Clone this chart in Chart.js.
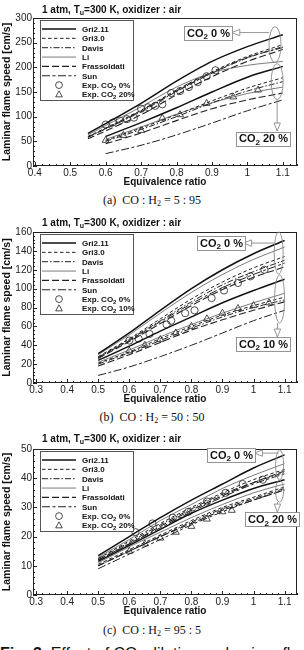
<!DOCTYPE html>
<html>
<head>
<meta charset="utf-8">
<script src="https://cdn.jsdelivr.net/npm/chart.js@4.4.0/dist/chart.umd.min.js"></script>
<style>
  body { margin: 0; background: #fff; }
  #page { position: relative; width: 304px; height: 650px; overflow: hidden; font-family: "Liberation Sans", Arial, sans-serif; color: #111; }
  canvas { position: absolute; left: 0; display: block; }
  .ttl { position: absolute; left: 42px; z-index: 2; font-weight: bold; font-size: 10px; line-height: 12px; white-space: nowrap; }
  .ttl sub { font-size: 7px; vertical-align: -2px; line-height: 0; }
  .cap { position: absolute; left: 0; width: 304px; text-align: center; font-family: "Liberation Serif", "Times New Roman", serif; font-size: 12px; line-height: 14px; white-space: nowrap; }
  .cap sub { font-size: 8px; vertical-align: -2px; line-height: 0; }
  .fig { position: absolute; left: 0; top: 646px; font-size: 16px; line-height: 16px; white-space: nowrap; }
  .fig sub { font-size: 11px; vertical-align: -3px; line-height: 0; }
</style>
</head>
<body>
<div id="page">
  <div class="ttl" style="top:4px">1 atm, T<sub>u</sub>=300 K, oxidizer : air</div>
  <canvas id="ca" width="304" height="180" style="top:10px"></canvas>
  <div class="cap" style="top:193px">(a)&nbsp; CO : H<sub>2</sub> = 5 : 95</div>

  <div class="ttl" style="top:217px">1 atm, T<sub>u</sub>=300 K, oxidizer : air</div>
  <canvas id="cb" width="304" height="183" style="top:224px"></canvas>
  <div class="cap" style="top:410px">(b)&nbsp; CO : H<sub>2</sub> = 50 : 50</div>

  <div class="ttl" style="top:433px">1 atm, T<sub>u</sub>=300 K, oxidizer : air</div>
  <canvas id="cc" width="304" height="178" style="top:441px"></canvas>
  <div class="cap" style="top:623px">(c)&nbsp; CO : H<sub>2</sub> = 95 : 5</div>

  <div class="fig"><b>Fig. 3</b>&nbsp; Effect of CO<sub>2</sub> dilution on laminar flame speed and</div>
</div>

<script>
const FONT = '"Liberation Sans", Arial, Helvetica, sans-serif';
Chart.defaults.font.family = FONT;
Chart.defaults.color = '#222';

// mechanisms, same order everywhere
const models = ['Gri2.11', 'Gri3.0', 'Davis', 'Li', 'Frassoldati', 'Sun'];

// ---- (a) CO:H2 = 5:95 ----
const phiA0 = [0.55, 0.6, 0.7, 0.8, 0.9, 1.0, 1.1];
const phiA20 = [0.6, 0.7, 0.8, 0.9, 1.0, 1.1];
const aGri211_0 = [66, 86, 127, 172, 212, 242, 266];
const aGri30_0 = [60, 77, 113, 154, 191, 222, 246];
const aDavis_0 = [58, 75, 110, 151, 188, 219, 242];
const aLi_0 = [63, 82, 120, 160, 189, 204, 212];
const aFrass_0 = [55, 71, 104, 144, 181, 212, 236];
const aSun_0 = [59, 76, 112, 152, 189, 220, 240];
const aGri211_20 = [60, 88, 118, 150, 180, 202];
const aGri30_20 = [52, 77, 104, 132, 158, 179];
const aDavis_20 = [50, 74, 100, 128, 152, 171];
const aLi_20 = [54, 79, 105, 128, 147, 160];
const aFrass_20 = [45, 67, 92, 116, 134, 148];
const aSun_20 = [25, 42, 63, 87, 112, 134];
const aExp0Phi = [0.6, 0.62, 0.64, 0.66, 0.68, 0.7, 0.72, 0.74, 0.76, 0.785, 0.81, 0.835, 0.86, 0.885, 0.91];
const aExp0 = [84, 88, 92, 95, 98, 116, 119, 122, 125, 148, 152, 160, 170, 182, 194];
const aExp20Phi = [0.6, 0.65, 0.7, 0.76, 0.81, 0.885, 0.96, 1.03];
const aExp20 = [52, 62, 72, 97, 104, 127, 140, 154];
const aXTicks = [0.4, 0.5, 0.6, 0.7, 0.8, 0.9, 1, 1.1];
const aYTicks = [0, 50, 100, 150, 200, 250, 300];

// ---- (b) CO:H2 = 50:50 ----
const phiB = [0.5, 0.6, 0.7, 0.8, 0.9, 1.0, 1.1];
const bGri211_0 = [31, 53, 77, 100, 120, 137, 151];
const bGri30_0 = [28, 47, 68, 89, 107, 122, 134];
const bDavis_0 = [27, 46, 66, 86, 104, 118, 130];
const bLi_0 = [30, 51, 74, 96, 115, 131, 144];
const bFrass_0 = [26, 44, 63, 82, 99, 112, 123];
const bSun_0 = [27, 45, 65, 84, 101, 115, 127];
const bGri211_10 = [24, 39, 55, 70, 85, 98, 110];
const bGri30_10 = [21, 33, 47, 60, 72, 82, 91];
const bDavis_10 = [20, 32, 45, 58, 70, 80, 88];
const bLi_10 = [22, 35, 49, 62, 74, 85, 95];
const bFrass_10 = [18, 30, 43, 56, 67, 77, 86];
const bSun_10 = [8, 17, 28, 40, 53, 66, 77];
const bExp0Phi = [0.6, 0.63, 0.665, 0.72, 0.735, 0.78, 0.81, 0.865, 0.905, 0.95, 0.99, 1.035];
const bExp0 = [45, 47, 52, 62, 66, 74, 77, 90, 98, 106, 113, 120];
const bExp10Phi = [0.6, 0.65, 0.7, 0.75, 0.8, 0.85, 0.9, 0.95, 1.0, 1.05];
const bExp10 = [34, 40, 46, 53, 60, 68, 74, 79, 82, 85];
const bXTicks = [0.3, 0.4, 0.5, 0.6, 0.7, 0.8, 0.9, 1, 1.1];
const bYTicks = [0, 20, 40, 60, 80, 100, 120, 140, 160];

// ---- (c) CO:H2 = 95:5 ----
const phiC = [0.5, 0.6, 0.7, 0.8, 0.9, 1.0, 1.1];
const cGri211_0 = [13.5, 20, 26.5, 32.5, 38, 43.5, 48];
const cGri30_0 = [12.5, 18.5, 24.5, 30, 35, 39.5, 43];
const cDavis_0 = [12.5, 18, 24, 29.5, 34.5, 38.5, 42];
const cLi_0 = [13, 19, 25.5, 31, 36.5, 41, 45];
const cFrass_0 = [12, 17.5, 23.5, 29, 34, 38.5, 42.5];
const cSun_0 = [12, 17.5, 23, 28.5, 33.5, 38, 41.5];
const cGri211_20 = [11.5, 17, 22.5, 28, 32.5, 36.5, 39.5];
const cGri30_20 = [10.5, 15.5, 20.5, 25.5, 30, 33.5, 37];
const cDavis_20 = [10, 15, 20, 25, 29.5, 33, 36.5];
const cLi_20 = [11, 16.5, 21.5, 26.5, 31, 35, 38];
const cFrass_20 = [10, 15, 20, 24.5, 29, 32.5, 36];
const cSun_20 = [9, 14, 19, 24, 28.5, 32.5, 36];
const cExp0Phi = [0.62, 0.675, 0.74, 0.79, 0.85, 0.91, 0.965, 1.03];
const cExp0 = [21.5, 24.5, 26.5, 28.5, 32, 35, 38, 39.5];
const cExp20Phi = [0.6, 0.65, 0.7, 0.75, 0.8, 0.85, 0.9, 0.93];
const cExp20 = [15, 17.5, 19.5, 21.5, 23.5, 26, 28.5, 29];
const cXTicks = bXTicks;
const cYTicks = [0, 10, 20, 30, 40, 50];

// line look of each mechanism (same order as models)
const modelLook = [
  { dash: [], width: 1.5, color: '#111' },
  { dash: [3.5, 2.5], width: 1, color: '#222' },
  { dash: [6, 2, 1.5, 2], width: 1, color: '#222' },
  { dash: [], width: 0.7, color: '#444' },
  { dash: [7, 3], width: 1.1, color: '#222' },
  { dash: [8, 2.5, 3, 2.5], width: 1, color: '#222' }
];

// draws text, putting "CO2" with a subscript 2; returns width
function richText(ctx, str, x, y, size, weight, draw) {
  const big = `${weight} ${size}px ${FONT}`;
  const small = `${weight} ${Math.round(size * 0.7)}px ${FONT}`;
  const parts = str.split('CO2');
  let cx = x;
  parts.forEach((p, i) => {
    if (i > 0) {
      ctx.font = big;
      if (draw) ctx.fillText('CO', cx, y);
      cx += ctx.measureText('CO').width;
      ctx.font = small;
      if (draw) ctx.fillText('2', cx, y + size * 0.25);
      cx += ctx.measureText('2').width;
    }
    ctx.font = big;
    if (draw) ctx.fillText(p, cx, y);
    cx += ctx.measureText(p).width;
  });
  return cx - x;
}

function arrowHead(ctx, x1, y1, x2, y2) {
  const ang = Math.atan2(y2 - y1, x2 - x1);
  const L = 8, W = 3.2;
  const bx = x2 - L * Math.cos(ang), by = y2 - L * Math.sin(ang);
  ctx.beginPath();
  ctx.moveTo(x2, y2);
  ctx.lineTo(bx + W * Math.sin(ang), by - W * Math.cos(ang));
  ctx.lineTo(bx - W * Math.sin(ang), by + W * Math.cos(ang));
  ctx.closePath();
  ctx.fillStyle = '#fff';
  ctx.fill();
  ctx.stroke();
}

// frame, inward ticks, legend box and the CO2 notes
function deco(cfg) {
  return {
    id: 'deco',
    afterDraw(chart) {
      const { ctx, chartArea: a, scales: { x, y } } = chart;
      ctx.save();
      ctx.setLineDash([]);
      ctx.strokeStyle = '#222';
      ctx.lineWidth = 1;
      ctx.beginPath();
      for (let k = Math.ceil(cfg.xmin / cfg.xMinor - 1e-6); k * cfg.xMinor <= cfg.xmax + 1e-9; k++) {
        const px = Math.round(x.getPixelForValue(k * cfg.xMinor)) + 0.5;
        const len = k % 5 === 0 ? 4 : 2;
        ctx.moveTo(px, a.bottom);
        ctx.lineTo(px, a.bottom - len);
      }
      for (let k = 0; k * cfg.yMinor <= cfg.ymax + 1e-9; k++) {
        const py = Math.round(y.getPixelForValue(k * cfg.yMinor)) + 0.5;
        const len = k % 5 === 0 ? 4 : 2;
        ctx.moveTo(a.left, py);
        ctx.lineTo(a.left + len, py);
      }
      ctx.stroke();
      ctx.strokeRect(Math.round(a.left) + 0.5, Math.round(a.top) + 0.5,
        Math.round(a.right - a.left) - 1, Math.round(a.bottom - a.top) - 1);

      // legend
      const lx = a.left + 7, ly = a.top + 2;
      ctx.fillStyle = '#fff';
      ctx.strokeStyle = '#555';
      ctx.fillRect(lx + 0.5, ly + 0.5, 93, 80);
      ctx.strokeRect(lx + 0.5, ly + 0.5, 93, 80);
      const labels = models.concat(cfg.expLabels);
      labels.forEach((lab, i) => {
        const ry = ly + 9 + i * 9.35;
        ctx.strokeStyle = '#222';
        if (i < models.length) {
          const st = modelLook[i];
          ctx.setLineDash(st.dash);
          ctx.lineWidth = st.width;
          ctx.strokeStyle = st.color;
          ctx.beginPath();
          ctx.moveTo(lx + 2, ry);
          ctx.lineTo(lx + 36, ry);
          ctx.stroke();
        } else {
          ctx.setLineDash([]);
          ctx.lineWidth = 0.8;
          ctx.beginPath();
          if (i === models.length) {
            ctx.arc(lx + 19, ry, 3.4, 0, Math.PI * 2);
          } else {
            ctx.moveTo(lx + 19, ry - 3.6);
            ctx.lineTo(lx + 22.3, ry + 2.4);
            ctx.lineTo(lx + 15.7, ry + 2.4);
            ctx.closePath();
          }
          ctx.stroke();
        }
        ctx.fillStyle = '#111';
        richText(ctx, lab, lx + 42, ry + 3, 8, 'bold', true);
      });

      // notes: ellipses, arrows, boxes
      ctx.setLineDash([]);
      ctx.lineWidth = 0.9;
      ctx.strokeStyle = '#8a8a8a';
      cfg.ellipses.forEach(([ex, ey, rx, ryy]) => {
        ctx.beginPath();
        ctx.ellipse(x.getPixelForValue(ex), y.getPixelForValue(ey), rx, ryy, 0, 0, Math.PI * 2);
        ctx.stroke();
      });
      cfg.arrows.forEach(([x1, y1, x2, y2]) => {
        const p1 = [x.getPixelForValue(x1), y.getPixelForValue(y1)];
        const p2 = [x.getPixelForValue(x2), y.getPixelForValue(y2)];
        ctx.beginPath();
        ctx.moveTo(p1[0], p1[1]);
        ctx.lineTo(p2[0], p2[1]);
        ctx.stroke();
        arrowHead(ctx, p1[0], p1[1], p2[0], p2[1]);
      });
      cfg.boxes.forEach(([bx, by, txt]) => {
        const w = richText(ctx, txt, 0, 0, 11, 'bold', false) + 5;
        const h = 14;
        const cx = x.getPixelForValue(bx), cy = y.getPixelForValue(by);
        ctx.fillStyle = '#fff';
        ctx.strokeStyle = '#8a8a8a';
        ctx.fillRect(Math.round(cx - w / 2) + 0.5, Math.round(cy - h / 2) + 0.5, Math.round(w), h);
        ctx.strokeRect(Math.round(cx - w / 2) + 0.5, Math.round(cy - h / 2) + 0.5, Math.round(w), h);
        ctx.fillStyle = '#111';
        richText(ctx, txt, Math.round(cx - w / 2) + 3, cy + 3.5, 11, 'bold', true);
      });
      ctx.restore();
    }
  };
}

function makeChart(id, cfg) {
  const datasets = [];
  models.forEach((m, k) => {
    const st = modelLook[k];
    [[cfg.phi0, cfg.base[k]], [cfg.phiD, cfg.dil[k]]].forEach(([xs, ys]) => {
      datasets.push({
        label: m,
        data: xs.map((v, i) => ({ x: v, y: ys[i] })),
        borderColor: st.color,
        borderWidth: st.width,
        borderDash: st.dash,
        pointRadius: 0,
        fill: false,
        cubicInterpolationMode: 'monotone'
      });
    });
  });
  datasets.push({
    label: cfg.expLabels[0],
    data: cfg.exp0Phi.map((v, i) => ({ x: v, y: cfg.exp0[i] })),
    showLine: false, pointStyle: 'circle', pointRadius: 3.6,
    pointBorderColor: '#222', pointBorderWidth: 0.8, pointBackgroundColor: 'rgba(0,0,0,0)'
  });
  datasets.push({
    label: cfg.expLabels[1],
    data: cfg.expDPhi.map((v, i) => ({ x: v, y: cfg.expD[i] })),
    showLine: false, pointStyle: 'triangle', pointRadius: 4,
    pointBorderColor: '#222', pointBorderWidth: 0.8, pointBackgroundColor: 'rgba(0,0,0,0)'
  });

  return new Chart(document.getElementById(id), {
    type: 'line',
    data: { datasets },
    options: {
      responsive: false,
      animation: false,
      events: [],
      layout: { padding: { top: 8, right: 7, left: 0, bottom: 0 } },
      plugins: { legend: { display: false }, tooltip: { enabled: false } },
      scales: {
        x: {
          type: 'linear', min: cfg.xmin, max: cfg.xmax,
          afterFit: s => { s.height = 24; },
          afterBuildTicks: s => { s.ticks = cfg.xTicks.map(v => ({ value: v })); },
          grid: { display: false, drawTicks: false },
          border: { display: false },
          ticks: { padding: 1, autoSkip: false, maxRotation: 0, font: { size: 10 }, color: '#222',
                   callback: v => String(+v.toFixed(2)) },
          title: { display: true, text: 'Equivalence ratio', color: '#111',
                   font: { size: 10, weight: 'bold' }, padding: { top: 0, bottom: 2 } }
        },
        y: {
          type: 'linear', min: 0, max: cfg.ymax,
          afterFit: s => { s.width = 33; },
          afterBuildTicks: s => { s.ticks = cfg.yTicks.map(v => ({ value: v })); },
          grid: { display: false, drawTicks: false },
          border: { display: false },
          ticks: { padding: 1, font: { size: 10 }, color: '#222' },
          title: { display: true, text: 'Laminar flame speed [cm/s]', color: '#111',
                   font: { size: 10.5, weight: 'bold' }, padding: { top: 1, bottom: 0 } }
        }
      }
    },
    plugins: [deco(cfg)]
  });
}

makeChart('ca', {
  phi0: phiA0, phiD: phiA20,
  base: [aGri211_0, aGri30_0, aDavis_0, aLi_0, aFrass_0, aSun_0],
  dil: [aGri211_20, aGri30_20, aDavis_20, aLi_20, aFrass_20, aSun_20],
  exp0Phi: aExp0Phi, exp0: aExp0, expDPhi: aExp20Phi, expD: aExp20,
  expLabels: ['Exp. CO2 0%', 'Exp. CO2 20%'],
  xmin: 0.395, xmax: 1.14, xMinor: 0.02, xTicks: aXTicks,
  ymax: 300, yMinor: 10, yTicks: aYTicks,
  boxes: [[0.89, 269.5, 'CO2 0 %'], [1.045, 55, 'CO2 20 %']],
  ellipses: [[1.078, 246, 6, 18], [1.084, 171, 6, 18]],
  arrows: [[1.061, 270.5, 0.956, 270.5], [1.084, 134, 1.084, 71]]
});

makeChart('cb', {
  phi0: phiB, phiD: phiB,
  base: [bGri211_0, bGri30_0, bDavis_0, bLi_0, bFrass_0, bSun_0],
  dil: [bGri211_10, bGri30_10, bDavis_10, bLi_10, bFrass_10, bSun_10],
  exp0Phi: bExp0Phi, exp0: bExp0, expDPhi: bExp10Phi, expD: bExp10,
  expLabels: ['Exp. CO2 0%', 'Exp. CO2 10%'],
  xmin: 0.29, xmax: 1.14, xMinor: 0.02, xTicks: bXTicks,
  ymax: 160, yMinor: 4, yTicks: bYTicks,
  boxes: [[0.894, 148.3, 'CO2 0 %'], [1.031, 41.3, 'CO2 10 %']],
  ellipses: [[1.081, 137.7, 4.5, 21], [1.084, 89, 5, 24]],
  arrows: [[1.068, 148.3, 0.968, 148.3], [1.077, 63.6, 1.077, 48.7]]
});

makeChart('cc', {
  phi0: phiC, phiD: phiC,
  base: [cGri211_0, cGri30_0, cDavis_0, cLi_0, cFrass_0, cSun_0],
  dil: [cGri211_20, cGri30_20, cDavis_20, cLi_20, cFrass_20, cSun_20],
  exp0Phi: cExp0Phi, exp0: cExp0, expDPhi: cExp20Phi, expD: cExp20,
  expLabels: ['Exp. CO2 0%', 'Exp. CO2 20%'],
  xmin: 0.29, xmax: 1.14, xMinor: 0.02, xTicks: cXTicks,
  ymax: 50, yMinor: 2, yTicks: cYTicks,
  boxes: [[0.927, 47.9, 'CO2 0 %'], [1.061, 25.9, 'CO2 20 %']],
  ellipses: [[1.084, 44.5, 4, 15], [1.084, 35.6, 4, 11]],
  arrows: [[1.081, 48.6, 1.003, 48.6], [1.077, 31.8, 1.077, 28.4]]
});
</script>
</body>
</html>
